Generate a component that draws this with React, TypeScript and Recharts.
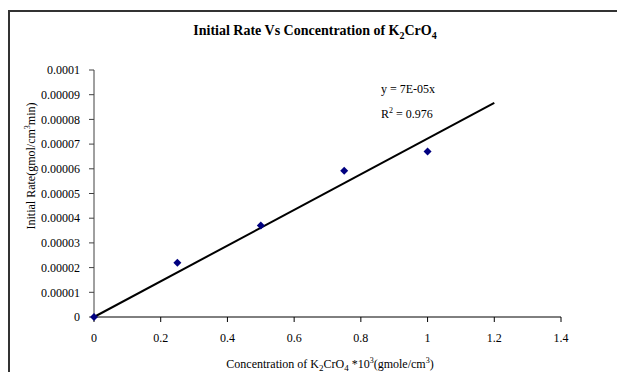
import { ScatterChart, Scatter, XAxis, YAxis } from "recharts";

const concentration = [0, 0.25, 0.5, 0.75, 1.0];
const initialRate = [0, 0.000022, 0.000037, 0.0000592, 0.000067];

const trendX = [0, 1.2];
const trendY = [0, 0.0000867];

const xTicks = [0, 0.2, 0.4, 0.6, 0.8, 1, 1.2, 1.4];
const yTicks = [0, 0.00001, 0.00002, 0.00003, 0.00004, 0.00005, 0.00006, 0.00007, 0.00008, 0.00009, 0.0001];

const points = concentration.map((x, i) => ({ x, y: initialRate[i] }));
const trend = trendX.map((x, i) => ({ x, y: trendY[i] }));

const FONT = '"Liberation Serif", "Times New Roman", serif';

function Diamond(props: any) {
  const { cx, cy } = props;
  const r = 4;
  return (
    <polygon
      points={`${cx},${cy - r} ${cx + r},${cy} ${cx},${cy + r} ${cx - r},${cy}`}
      fill="#000080"
    />
  );
}

const fmtY = (v: number) => (v === 0 ? "0" : String(parseFloat(v.toFixed(5))));

export default function App() {
  return (
    <div style={{ position: "relative", width: 617, height: 372, overflow: "hidden", background: "#fff", fontFamily: FONT }}>
      <style>{`body{margin:0}`}</style>
      {/* chart frame, cut off on the right and bottom */}
      <div
        style={{
          position: "absolute",
          left: 8,
          top: 10,
          width: 700,
          height: 500,
          border: "2px solid #333",
          boxSizing: "border-box",
        }}
      />
      <div style={{ position: "absolute", left: 0, top: 0 }}>
        <ScatterChart width={617} height={372} margin={{ top: 70, right: 56, bottom: 20, left: 0 }}>
          <XAxis
            type="number"
            dataKey="x"
            domain={[0, 1.4]}
            ticks={xTicks}
            interval={0}
            height={35}
            tickSize={5}
            tickMargin={11}
            stroke="#000"
            tick={{ fill: "#000", fontSize: 12, fontFamily: FONT }}
          />
          <YAxis
            type="number"
            dataKey="y"
            domain={[0, 0.0001]}
            ticks={yTicks}
            interval={0}
            width={94}
            tickSize={5}
            tickMargin={9}
            tickFormatter={fmtY}
            stroke="#404040"
            tick={{ fill: "#000", fontSize: 12, fontFamily: FONT }}
          />
          <Scatter
            data={trend}
            line={{ stroke: "#000", strokeWidth: 2 }}
            shape={() => <g />}
            isAnimationActive={false}
          />
          <Scatter data={points} shape={<Diamond />} isAnimationActive={false} />
        </ScatterChart>
      </div>

      <div style={{ position: "absolute", left: 0, width: 630, top: 23, textAlign: "center", fontWeight: "bold", fontSize: 14 }}>
        Initial Rate Vs Concentration of K<sub style={{ fontSize: 10 }}>2</sub>CrO<sub style={{ fontSize: 10 }}>4</sub>
      </div>

      <div
        style={{
          position: "absolute",
          left: 31,
          top: 166,
          transform: "translate(-50%, -50%) rotate(-90deg)",
          whiteSpace: "nowrap",
          fontSize: 12,
        }}
      >
        Initial Rate(gmol/cm<sup style={{ fontSize: 8 }}>3</sup>min)
      </div>

      <div style={{ position: "absolute", left: 94, width: 472, top: 356, textAlign: "center", fontSize: 12, whiteSpace: "nowrap" }}>
        Concentration of K<sub style={{ fontSize: 9 }}>2</sub>CrO<sub style={{ fontSize: 9 }}>4</sub> *10<sup style={{ fontSize: 8 }}>3</sup>(gmole/cm<sup style={{ fontSize: 8 }}>3</sup>)
      </div>

      <div style={{ position: "absolute", left: 381, top: 79, fontSize: 12, lineHeight: "21px", whiteSpace: "nowrap" }}>
        <div>y = 7E-05x</div>
        <div>
          R<sup style={{ fontSize: 8 }}>2</sup> = 0.976
        </div>
      </div>
    </div>
  );
}
